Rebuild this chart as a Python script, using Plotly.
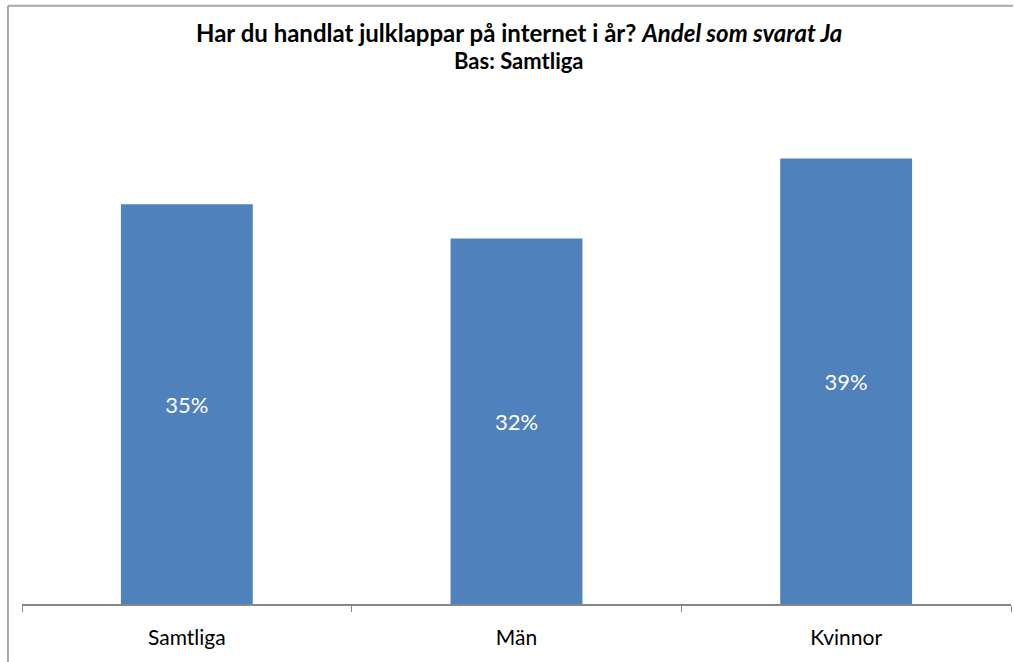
import plotly.graph_objects as go

categories = ["Samtliga", "Män", "Kvinnor"]
values = [0.35, 0.32, 0.39]
labels = ["35%", "32%", "39%"]

FONT = "Lato"
fig = go.Figure()
fig.add_trace(go.Bar(
    x=categories, y=values, text=labels,
    textposition="inside", insidetextanchor="middle",
    textfont=dict(color="white", size=22, family=FONT),
    marker=dict(color="#4F81BD", line=dict(width=0)),
    width=0.4, hoverinfo="skip",
))

fig.update_layout(
    width=1014, height=662,
    margin=dict(l=22, r=3, t=90, b=58),
    paper_bgcolor="white", plot_bgcolor="white",
    showlegend=False,
    font=dict(family=FONT, color="black"),
    xaxis=dict(
        showline=True, linecolor="#868686", linewidth=2,
        ticks="outside", tickson="boundaries", ticklen=6, tickcolor="#868686", tickwidth=1,
        tickfont=dict(size=21, family=FONT, color="black"),
        ticklabelstandoff=14,
        showgrid=False, zeroline=False,
    ),
    yaxis=dict(range=[0, 0.45], visible=False, showgrid=False, zeroline=False),
    annotations=[
        dict(xref="paper", yref="paper", x=0.503, y=1.1128, xanchor="center", yanchor="middle",
             text="<b>Har du handlat julklappar på internet i år? <i>Andel som svarat Ja</i></b>",
             showarrow=False, font=dict(size=24, family=FONT, color="black")),
        dict(xref="paper", yref="paper", x=0.503, y=1.058, xanchor="center", yanchor="middle",
             text="<b>Bas: Samtliga</b>",
             showarrow=False, font=dict(size=22, family=FONT, color="black")),
    ],
    shapes=[
        dict(type="line", xref="paper", yref="paper", x0=-0.0142, x1=1.002, y0=1.164, y1=1.164,
             line=dict(color="#A6A6A6", width=2), layer="above"),
        dict(type="line", xref="paper", yref="paper", x0=-0.0142, x1=-0.0142, y0=1.164, y1=-0.12,
             line=dict(color="#A6A6A6", width=2), layer="above"),
    ],
)
fig.write_html("out.html", config={"displayModeBar": False},
               post_script="document.body.style.margin='0';document.body.style.overflow='hidden';")
